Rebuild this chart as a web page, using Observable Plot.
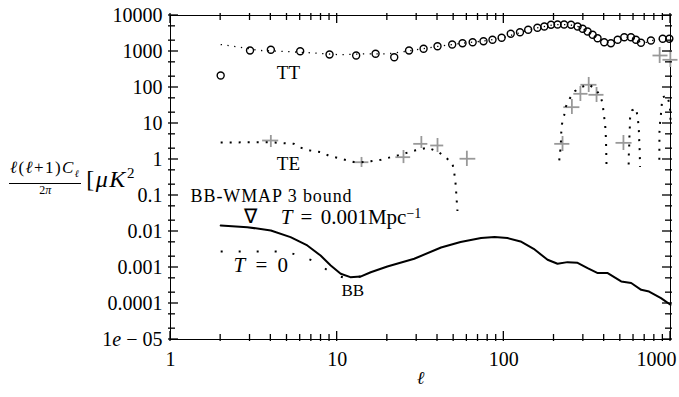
<!DOCTYPE html>
<html><head><meta charset="utf-8">
<script src="https://cdn.jsdelivr.net/npm/d3@7"></script>
<script src="https://cdn.jsdelivr.net/npm/@observablehq/plot@0.6"></script>
<style>
body{margin:0;background:#fff;}
#wrap{position:relative;width:679px;height:397px;font-family:"Liberation Serif",serif;color:#000;}
#ylab{position:absolute;left:9px;top:160px;display:flex;align-items:center;}
.frac{display:inline-flex;flex-direction:column;align-items:center;}
.num{font-size:17px;line-height:15px;border-bottom:1px solid #000;padding:0 1px 2px 1px;letter-spacing:1.4px;white-space:nowrap;}
.den{font-size:12px;line-height:13px;}
.brk{font-size:24px;margin-left:5px;white-space:nowrap;letter-spacing:1.5px;}
</style></head><body>
<div id="wrap"><div id="chart"></div>
<div id="ylab"><div class="frac"><span class="num"><i>ℓ</i>(<i>ℓ</i>+1)<i>C</i><sub style="font-size:10px"><i>ℓ</i></sub></span><span class="den">2<i>π</i></span></div><span class="brk">[<i>μK</i><sup style="font-size:15px">2</sup></span></div>
</div>
<script>
// TT binned data (circles)
const ttEll = [2,3,4,6,9,13,17,22,27,33,40,49,56.5,65,75.5,85.5,97,110,125,140,159,175,192,210,230,253,277,297,318,341,365,400,439,482,528,579,620,665,763,898,984];
const ttVal = [215,1066,1115,1020,826,774,863,695,1066,1190,1400,1564,1703,1813,1932,2115,2404,3104,3437,4009,4551,4945,5516,5623,5623,5516,4945,4276,3594,2913,2341,1813,1703,2115,2494,2494,2115,1746,2023,2255,2255];
// TT theory (dotted)
const ttThEll = [2,2.6,3.4,4.5,7,10.5,14.5,20,24,30,40,50,60,70,80,100,120,150,180,200,220,250,280,300,340,370,410,440,480,540,580,620,670,720,800,900,1000];
const ttThVal = [1560,1320,1070,1020,920,810,860,860,960,1120,1380,1580,1760,1880,2030,2450,3150,4300,5100,5500,5650,5500,4900,4250,2950,2300,1800,1720,2100,2500,2450,2150,1760,1800,2100,2250,2250];
// TE theory (dotted, positive parts only)
const teEll = [2,3,4,5.5,6,6.9,8,8.9,10,11.6,12.6,13.8,15.9,18.3,21,24,26.9,29.6,35,40.7,44.7,49.2,50.5,51.5,52,52.7,
  215,218,220,221,223,230,236,249,267,290,325,357,379,392,397,404,408,410,411,412,413,414,
  561,562,565,567,570,572,587,621,635,644,648,650,653,655,656,
  857,857.5,858,858.5,865,877,886,898,953,985,998,1000];
const teVal = [2.97,3.0,3.0,2.72,2.15,1.78,1.59,1.28,1.12,0.94,0.85,0.83,0.89,0.98,1.16,1.36,1.59,1.8,2.15,1.59,1.16,0.77,0.4,0.19,0.087,0.037,
  0.94,1.7,3.0,5.4,9.4,16.7,30,50,79,102,121,86,60,35,19,11,6.1,3.4,2.3,1.3,0.73,0.59,
  0.73,1.29,2.3,4.35,7.9,14,23,26.6,15,8.3,4.6,2.6,1.86,1.05,0.62,
  0.98,1.78,3.16,5.7,10.2,18.6,33,53.8,60,35.3,20.6,11];
const teSeg = [...Array(26).fill(1),...Array(22).fill(2),...Array(15).fill(3),...Array(12).fill(4)];
// TE binned data (crosses): centre, bin range, error range
const teXEll = [4,14,25,32,40,60,225,256,288,323,360,522,861,998];
const teXVal = [3.37,0.84,1.16,2.72,2.45,1.05,2.72,28.4,66.8,119,62.7,2.9,774,588];
const teXLo = [3.57,12.6,22.5,28.8,36.4,54.6,202,229,263,290,324,471,785,901];
const teXHi = [4.46,15.5,27.6,35,43.6,67.9,249,286,320,362,399,588,966,1109];
const teXVLo = [2.15,0.60,0.77,2.02,1.56,0.64,1.67,17.8,40.8,72.6,38.3,1.78,464,359];
const teXVHi = [4.64,1.14,1.78,4.35,3.83,1.70,4.35,46.4,107,190,100,4.64,1292,1066];
// BB, T = 0.001 Mpc^-1 (solid)
const bbEll = [2,2.89,4,5.25,6.62,7.95,9.15,10.5,12,13.8,15.9,20,29,42,55,73,88,105,126,151,183,210,241,277,318,366,420,506,581,667,744,877,1000];
const bbVal = [0.0147,0.0132,0.0107,0.0070,0.0041,0.00215,0.00114,0.00067,0.00054,0.00056,0.00074,0.00107,0.00175,0.0036,0.0051,0.0066,0.0070,0.0066,0.0053,0.0033,0.00164,0.00127,0.00141,0.00135,0.00096,0.00070,0.00070,0.00041,0.00037,0.00024,0.000215,0.000141,0.000092];
// BB, T = 0 (dotted)
const bb0Ell = [2,3,4,5,6,7,8,9,10,11,12,13,14];
const bb0Val = [0.0028,0.0028,0.0028,0.0027,0.0021,0.0016,0.0011,0.00078,0.00060,0.00052,0.00050,0.00052,0.00057];
// Ticks
const xMajor = [1,10,100,1000];
const xMinor = [2,3,4,5,6,7,8,9,20,30,40,50,60,70,80,90,200,300,400,500,600,700,800,900];
const yMajor = [1e4,1e3,100,10,1,0.1,0.01,0.001,0.0001,1e-5];
const yMinor = [5e3,2e3,500,200,50,20,5,2,0.5,0.2,0.05,0.02,0.005,0.002,5e-4,2e-4,5e-5,2e-5];
const yLabels = ["10000","1000","100","10","1","0.1","0.01","0.001","0.0001","1e − 05"];
// Annotations
const annText = ["TT","TE","BB-WMAP 3 bound","∇","T = 0.001Mpc−1","T = 0","BB"];
const annEll = [5.1,5.1,1.32,3.0,4.58,2.39,12.4];
const annVal = [261,0.77,0.094,0.026,0.0245,0.00114,0.00023];
const annAnchor = ["middle","middle","start","middle","start","start","middle"];
const annSize = [19,19,18,20,21,21,17];

const tt = ttEll.map((l,i)=>({l, v: ttVal[i]}));
const ttTh = ttThEll.map((l,i)=>({l, v: ttThVal[i]}));
const te = teEll.map((l,i)=>({l, v: teVal[i], s: teSeg[i]}));
const teX = teXEll.map((l,i)=>({l, v: teXVal[i], lo: teXLo[i], hi: teXHi[i], vlo: teXVLo[i], vhi: teXVHi[i]}));
const bb = bbEll.map((l,i)=>({l, v: bbVal[i]}));
const bb0 = bb0Ell.map((l,i)=>({l, v: bb0Val[i]}));
const ann = annText.map((t,i)=>({t, l: annEll[i], v: annVal[i], a: annAnchor[i], fs: annSize[i]}));

const W = 679, H = 397, ML = 170, MR = 9, MT = 15, MB = 58;
const xDom = [1, 1000], yDom = [1e-5, 1e4];
const tickMaj = 8, tickMin = 5, tickOut = 2;

const font = "Liberation Serif";
const chart = Plot.plot({
  width: W, height: H,
  marginLeft: ML, marginRight: MR, marginTop: MT, marginBottom: MB,
  style: {fontFamily: font, fontSize: "20px", background: "white", color: "black"},
  x: {type: "log", domain: xDom, label: null, axis: null},
  y: {type: "log", domain: yDom, label: null, axis: null},
  marks: [
    Plot.frame({stroke: "black", strokeWidth: 1, fill: "none"}),
    Plot.axisX(xMajor.slice(0,3), {anchor: "bottom", tickSize: 0, tickPadding: 12, tickFormat: d => String(d), fontSize: 20, label: null}),
    Plot.axisX(xMajor.slice(3), {anchor: "bottom", tickSize: 0, tickPadding: 12, tickFormat: d => String(d), fontSize: 20, dx: -14, label: null}),
    Plot.axisY(yMajor, {anchor: "left", tickSize: 0, tickPadding: 8, tickFormat: d => yLabels[yMajor.indexOf(d)], fontSize: 20, label: null}),
    Plot.text(["ℓ"], {frameAnchor: "bottom", dy: 44, fontSize: 18, fontStyle: "italic"}),
    // TT
    Plot.line(ttTh, {x: "l", y: "v", stroke: "black", strokeWidth: 1.3, strokeLinecap: "butt", strokeDasharray: "1.3 5.5"}),
    Plot.dot(tt, {x: "l", y: "v", r: 3.5, stroke: "black", strokeWidth: 1.4, fill: "none"}),
    // TE
    Plot.ruleY(teX, {y: "v", x1: "lo", x2: "hi", stroke: "#999", strokeWidth: 1.8}),
    Plot.ruleX(teX, {x: "l", y1: "vlo", y2: "vhi", stroke: "#999", strokeWidth: 1.8}),
    Plot.line(te, {x: "l", y: "v", z: "s", stroke: "black", strokeWidth: 2, strokeLinecap: "butt", strokeDasharray: "2 7"}),
    // BB
    Plot.line(bb0, {x: "l", y: "v", stroke: "black", strokeWidth: 2, strokeLinecap: "butt", strokeDasharray: "2 16"}),
    Plot.line(bb, {x: "l", y: "v", stroke: "black", strokeWidth: 2}),
    // annotations
    Plot.text(ann.filter(d => d.a === "middle"), {x: "l", y: "v", text: "t", textAnchor: "middle", fontSize: "fs"}),
    Plot.text(ann.filter(d => d.a === "start"), {x: "l", y: "v", text: "t", textAnchor: "start", fontSize: "fs"})
  ]
});
document.getElementById("chart").appendChild(chart);

const svg = d3.select(chart);

// ticks on all four sides (inward, crossing the frame slightly), positioned with the plot's own scales
const sxo = chart.scale("x"), syo = chart.scale("y");
const sx = sxo && sxo.apply ? v => sxo.apply(v) : d3.scaleLog(xDom, [ML, W - MR]);
const sy = syo && syo.apply ? v => syo.apply(v) : d3.scaleLog(yDom, [H - MB, MT]);
const x0 = sx(xDom[0]), x1 = sx(xDom[1]), y0 = sy(yDom[0]), y1 = sy(yDom[1]);
const g = svg.append("g").attr("stroke", "black").attr("stroke-width", 1.3).attr("fill", "none");
const addX = (arr, len) => arr.forEach(v => {
  const x = sx(v);
  g.append("line").attr("x1", x).attr("x2", x).attr("y1", y0 + tickOut).attr("y2", y0 - len);
  g.append("line").attr("x1", x).attr("x2", x).attr("y1", y1 - tickOut).attr("y2", y1 + len);
});
const addY = (arr, len) => arr.forEach(v => {
  const y = sy(v);
  g.append("line").attr("y1", y).attr("y2", y).attr("x1", x0 - tickOut).attr("x2", x0 + len);
  g.append("line").attr("y1", y).attr("y2", y).attr("x1", x1 + tickOut).attr("x2", x1 - len);
});
addX(xMajor, tickMaj); addX(xMinor, tickMin); addY(yMajor, tickMaj); addY(yMinor, tickMin);

// math typesetting of a few labels
svg.selectAll("text").each(function(){
  const t = d3.select(this);
  const s = this.textContent;
  if (s === "1e − 05") {
    t.text(""); t.append("tspan").text("1"); t.append("tspan").attr("font-style","italic").text("e"); t.append("tspan").text(" − 05");
  } else if (s === "T = 0.001Mpc−1") {
    t.attr("word-spacing", "3px");
    t.text(""); t.append("tspan").attr("font-style","italic").text("T"); t.append("tspan").text(" = 0.001Mpc");
    t.append("tspan").attr("dy","-0.45em").attr("font-size","14px").text("−1");
  } else if (s === "T = 0") {
    t.attr("word-spacing", "5px");
    t.text(""); t.append("tspan").attr("font-style","italic").text("T"); t.append("tspan").text(" = 0");
  } else if (s === "BB-WMAP 3 bound") {
    t.attr("letter-spacing", "0.9px");
  }
});
</script></body></html>
